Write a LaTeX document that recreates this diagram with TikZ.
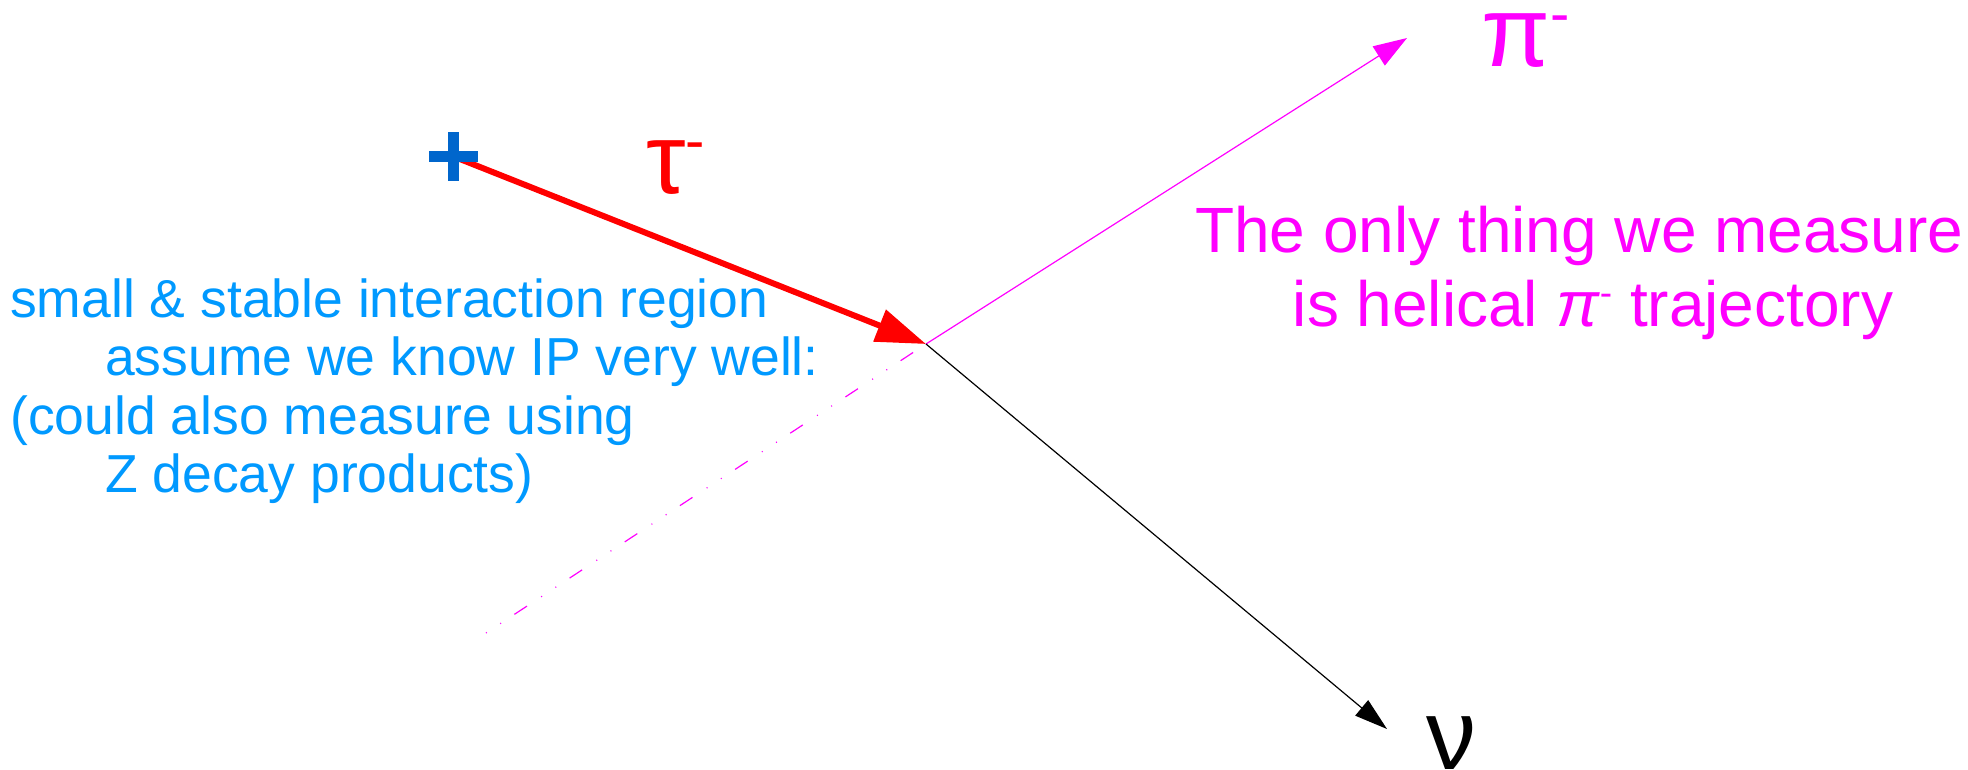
\documentclass[tikz,border=0pt]{standalone}
\usepackage{fontspec}
\setmainfont{Liberation Sans}
\usetikzlibrary{arrows.meta}
\definecolor{tauRed}{RGB}{255,0,0}
\definecolor{piMag}{RGB}{255,0,255}
\definecolor{plusBlue}{RGB}{0,102,204}
\definecolor{txtBlue}{RGB}{0,153,255}
\tikzset{
  bluetxt/.style={text=txtBlue, font=\fontsize{53.5}{58}\selectfont, inner sep=0pt, anchor=base west},
  magtxt/.style={text=piMag, font=\fontsize{64}{74}\selectfont, inner sep=0pt},
  greek/.style={font=\fontsize{100}{100}\selectfont, inner sep=0pt, anchor=base west},
  thinline/.style={line width=1.2pt},
  plusbar/.style={fill=plusBlue, inner sep=0pt, outer sep=0pt},
}
\newcommand{\supminus}[2]{\raisebox{#1}{\fontsize{#2}{#2}\selectfont -}}
\begin{document}
\begin{tikzpicture}[x=1pt,y=-1pt]
\useasboundingbox (0,0) rectangle (1968,769);
\coordinate (start) at (453.5,156.5);
\coordinate (ip) at (926,344);
\coordinate (pitip) at (1407,38);
\coordinate (nutip) at (1387,729);
\coordinate (dashend) at (486,633);
% lines
\draw[piMag, thinline, dash pattern=on 1pt off 16pt on 1pt off 16pt on 15pt off 17pt] (dashend) -- (ip);
\draw[piMag, thinline, -{Triangle[length=33.5pt,width=22.5pt]}] (ip) -- (pitip);
\draw[black, thinline, -{Triangle[length=33pt,width=20pt]}] (ip) -- (nutip);
\draw[tauRed, line width=6pt, -{Triangle[length=50pt,width=33pt]}] (start) -- (ip);
% plus marker
\node[plusbar, minimum width=49pt, minimum height=11.3pt] (plush) at (start) {};
\node[plusbar, minimum width=11.3pt, minimum height=49pt] (plusv) at (start) {};
% greek labels
\node[greek, text=tauRed] (tau) at (646,193) {τ\supminus{33pt}{58}};
\node[greek, text=piMag] (pi) at (1481.5,66) {π\supminus{33pt}{58}};
\node[greek, text=black] (nu) at (1426.5,769) {ν};
% blue text
\node[bluetxt] (b1) at (10,317) {small \& stable interaction region};
\node[bluetxt] (b2) at (105,375) {assume we know IP very well:};
\node[bluetxt] (b3) at (10,434) {(could also measure using};
\node[bluetxt] (b4) at (105,492) {Z decay products)};
% magenta text
\node[magtxt, anchor=base west] (m1) at (1195,252) {The only thing we measure};
\node[magtxt, anchor=base] (m2) at (1593,326) {is helical \textit{π}\supminus{21pt}{37} trajectory};
\end{tikzpicture}
\end{document}
